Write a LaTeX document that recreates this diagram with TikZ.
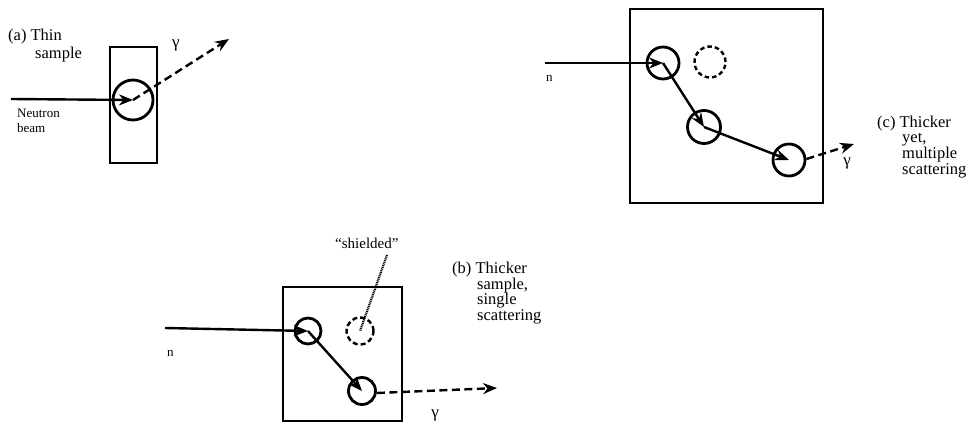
\documentclass[tikz,border=0pt]{standalone}
\usepackage{fontspec}
\setmainfont{Liberation Serif}
\usetikzlibrary{arrows.meta}
\begin{document}
\begin{tikzpicture}[x=1pt,y=-1pt,
  samplebox/.style={draw,line width=2.6pt},
  nucleus/.style={draw,circle,line width=2.8pt,inner sep=0pt},
  ghost/.style={draw,circle,line width=2.4pt,inner sep=0pt,dash pattern=on 4.5pt off 3pt},
  beam/.style={line width=2.4pt,-{Stealth[length=14pt,width=11pt]}},
  gray beam/.style={line width=2.4pt,dash pattern=on 8pt off 4.5pt,-{Stealth[length=14pt,width=11pt]}},
  lbl/.style={font=\fontsize{16.5}{17}\selectfont,inner sep=0pt},
  small/.style={font=\fontsize{13}{14}\selectfont,inner sep=0pt},
  gam/.style={font=\fontsize{17}{17}\selectfont,inner sep=0pt},
]
\useasboundingbox (0,0) rectangle (976,423);

% ---------- (a) ----------
\draw[samplebox] (110,47) rectangle (157,163);
\node[nucleus,minimum size=40pt] (a1) at (133,100) {};
\coordinate (ain) at (11,99);
\coordinate (aout) at (229,39);
\draw[beam] (ain) -- (a1.center);
\draw[gray beam] (a1.center) -- (aout);
\node[lbl,anchor=west] (ta1) at (8,37) {(a) Thin};
\node[lbl,anchor=west] (ta2) at (35,55) {sample};
\node[small,anchor=west] (ta3) at (17,113) {Neutron};
\node[small,anchor=west] (ta4) at (17,128) {beam};
\node[gam] (ga) at (176,45) {γ};

% ---------- (c) ----------
\draw[samplebox] (630,9) rectangle (823,203);
\node[nucleus,minimum size=32pt] (c1) at (663,63) {};
\node[ghost,minimum size=31pt] (cg) at (710,62) {};
\node[nucleus,minimum size=33pt] (c2) at (704,127) {};
\node[nucleus,minimum size=32pt] (c3) at (789,160) {};
\coordinate (cin) at (545,63);
\coordinate (cout) at (854,144);
\draw[beam] (cin) -- (c1.center);
\draw[beam] (c1.center) -- (c2.center);
\draw[beam] (c2.center) -- (c3.center);
\draw[gray beam] (c3.east) ++(0,-1) -- (cout);
\node[small,anchor=west] (nc) at (546,78) {n};
\node[gam] (gc) at (847,163) {γ};
\node[lbl,anchor=west] (tc1) at (877,124) {(c) Thicker};
\node[lbl,anchor=west] (tc2) at (902,140) {yet,};
\node[lbl,anchor=west] (tc3) at (902,155) {multiple};
\node[lbl,anchor=west] (tc4) at (902,171) {scattering};

% ---------- (b) ----------
\draw[samplebox] (283,287) rectangle (402,421);
\node[nucleus,minimum size=26pt] (b1) at (308,331) {};
\node[ghost,minimum size=27pt,dash pattern=on 5pt off 3pt] (bg) at (360,331) {};
\node[nucleus,minimum size=27pt] (b2) at (362,391) {};
\coordinate (bin) at (165,328);
\coordinate (bout) at (497,388);
\draw[beam] (bin) -- (b1.center);
\draw[beam] (b1.center) -- (b2.center);
\draw[gray beam] (b2.east) ++(0,2) -- (bout);
\node[small,anchor=west] (nb) at (167,353) {n};
\node[gam] (gb) at (435,415) {γ};
\node[font=\fontsize{15}{15}\selectfont,inner sep=0pt,anchor=west] (ts) at (335,243) {“shielded”};
\coordinate (lead) at (387,255);
\draw[line width=2.2pt,dash pattern=on 1pt off 0.8pt] (lead) -- (bg.center);
\node[lbl,anchor=west] (tb1) at (452,270) {(b) Thicker};
\node[lbl,anchor=west] (tb2) at (477,286) {sample,};
\node[lbl,anchor=west] (tb3) at (477,301) {single};
\node[lbl,anchor=west] (tb4) at (477,317) {scattering};
\end{tikzpicture}
\end{document}
